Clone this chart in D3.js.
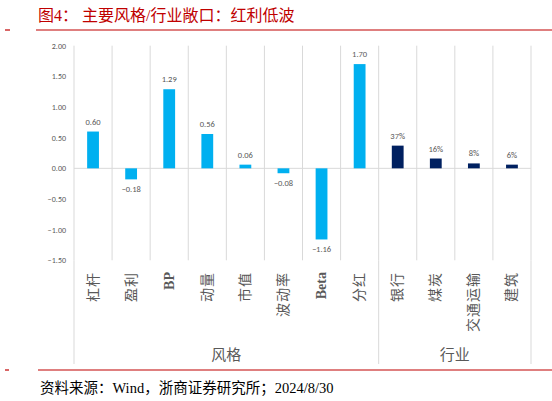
<!DOCTYPE html>
<html><head><meta charset="utf-8">
<script src="https://cdn.jsdelivr.net/npm/d3@7/dist/d3.min.js"></script>
<style>
body{margin:0;background:#fff;}
svg{display:block;}
</style></head>
<body><svg id="c" width="552" height="401"></svg>
<script>
const styleCats = ["杠杆","盈利","BP","动量","市值","波动率","Beta","分红"];
const styleVals = [0.60,-0.18,1.29,0.56,0.06,-0.08,-1.16,1.70];
const indCats = ["银行","煤炭","交通运输","建筑"];
const indVals = [0.37,0.16,0.08,0.06];
const yTicks = [-1.5,-1.0,-0.5,0,0.5,1.0,1.5,2.0];
const groups = [{name:"风格", cats:styleCats},{name:"行业", cats:indCats}];

const data = styleCats.map((c,i)=>({cat:c,val:styleVals[i],grp:0}))
  .concat(indCats.map((c,i)=>({cat:c,val:indVals[i],grp:1})));

const svg = d3.select("#c");
const serif = "'Liberation Serif','Noto Sans CJK SC',serif";
const sans = "Carlito,'Liberation Sans','DejaVu Sans',sans-serif";
const red = "#C00000";
const gray = "#595959";

// header
svg.append("text").attr("x",38).attr("y",21).attr("fill",red)
  .attr("font-family",serif).attr("font-size",16)
  .text("图4：  主要风格/行业敞口：红利低波");
svg.append("line").attr("x1",36).attr("x2",552).attr("y1",30).attr("y2",30).attr("stroke",red).attr("stroke-width",1.2);
svg.append("line").attr("x1",5).attr("x2",10).attr("y1",30).attr("y2",30).attr("stroke",red).attr("stroke-width",1.2);
svg.append("line").attr("x1",38).attr("x2",552).attr("y1",370).attr("y2",370).attr("stroke",red).attr("stroke-width",1.2);
svg.append("line").attr("x1",5).attr("x2",9).attr("y1",370).attr("y2",370).attr("stroke",red).attr("stroke-width",1.2);
svg.append("text").attr("x",40).attr("y",393).attr("fill","#000")
  .attr("font-family",serif).attr("font-size",14.5)
  .text("资料来源：Wind，浙商证券研究所；2024/8/30");

const x = d3.scaleBand().domain(data.map(d=>d.cat)).range([74,531]).padding(0);
const y = d3.scaleLinear().domain([-1.5,2]).range([260.3,45.7]);

// vertical gridlines (category boundaries)
const bounds = data.map(d=>x(d.cat)).concat([x.range()[1]]);
svg.append("g").selectAll("line").data(bounds).join("line")
  .attr("x1",d=>d).attr("x2",d=>d).attr("y1",y(2)).attr("y2",y(-1.5))
  .attr("stroke","#d9d9d9").attr("stroke-width",1);
// group boundary extended lines
const gb = [x(styleCats[0]), x(indCats[0]), x.range()[1]];
svg.append("g").selectAll("line").data(gb).join("line")
  .attr("x1",d=>d).attr("x2",d=>d).attr("y1",y(-1.5)).attr("y2",364)
  .attr("stroke","#d9d9d9").attr("stroke-width",1);

// zero line
svg.append("line").attr("x1",74).attr("x2",531).attr("y1",y(0)).attr("y2",y(0))
  .attr("stroke","#d9d9d9").attr("stroke-width",1);

// y axis labels
const yAxis = d3.axisLeft(y).tickValues(yTicks).tickFormat(d3.format(".2f")).tickSize(0).tickPadding(8);
const ya = svg.append("g").attr("transform","translate(74,0)").call(yAxis);
ya.select(".domain").remove();
ya.selectAll("text").attr("fill",gray).attr("font-family",sans).attr("font-size",8);

// bars
const bw = x.bandwidth()*0.31;
svg.append("g").selectAll("rect").data(data).join("rect")
  .attr("x",d=>x(d.cat)+x.bandwidth()/2-bw/2)
  .attr("width",bw)
  .attr("y",d=>y(Math.max(0,d.val)))
  .attr("height",d=>Math.abs(y(d.val)-y(0)))
  .attr("fill",d=>d.grp===0?"#00B0F0":"#002060");

// data labels
svg.append("g").selectAll("text").data(data).join("text")
  .attr("x",d=>x(d.cat)+x.bandwidth()/2)
  .attr("y",d=>d.val>=0? y(d.val)-7 : y(d.val)+13)
  .attr("text-anchor","middle").attr("fill",gray)
  .attr("font-family",sans).attr("font-size",8.5)
  .text(d=>d.grp===0? d3.format(".2f")(d.val) : d3.format(".0%")(d.val));

// category labels (rotated)
const isLatin = s => /^[A-Za-z]+$/.test(s);
svg.append("g").selectAll("text").data(data).join("text")
  .attr("transform",d=>`translate(${x(d.cat)+x.bandwidth()/2},272) rotate(-90)`)
  .attr("text-anchor","end").attr("dominant-baseline","central")
  .attr("fill",gray).attr("font-family",serif).attr("font-size",14)
  .attr("font-weight",d=>isLatin(d.cat)?"bold":"normal")
  .attr("letter-spacing",d=>isLatin(d.cat)?0:1)
  .text(d=>d.cat);

// group labels
svg.append("g").selectAll("text").data(groups).join("text")
  .attr("x",g=>(x(g.cats[0]) + x(g.cats[g.cats.length-1])+x.bandwidth())/2)
  .attr("y",360).attr("text-anchor","middle")
  .attr("fill",gray).attr("font-family",serif).attr("font-size",15)
  .text(g=>g.name);
</script></body></html>
